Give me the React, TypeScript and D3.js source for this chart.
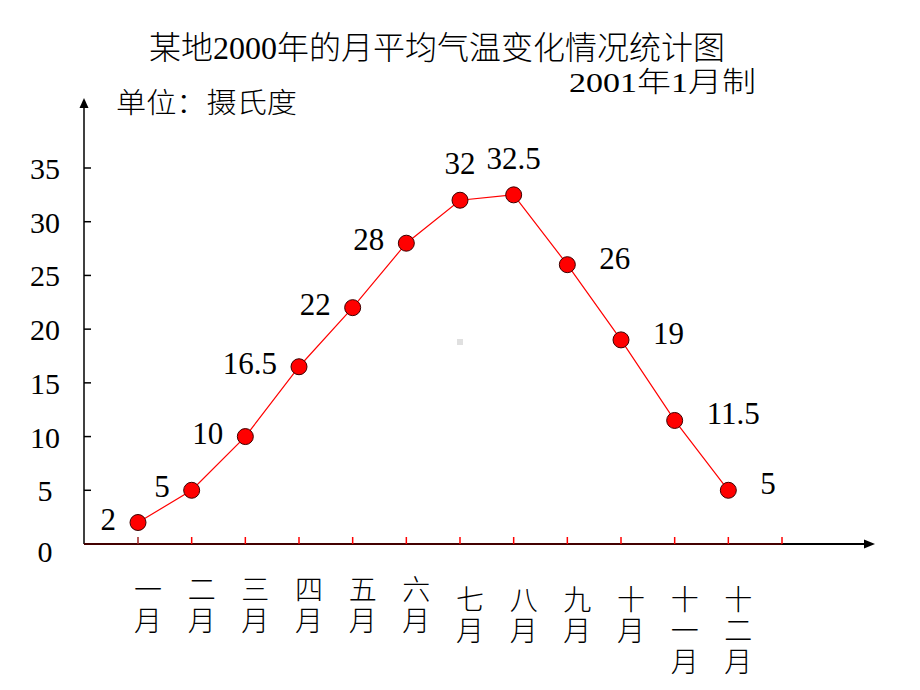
import React from "react";
import * as d3 from "d3";

const months = ["一月", "二月", "三月", "四月", "五月", "六月", "七月", "八月", "九月", "十月", "十一月", "十二月"];
const temps = [2, 5, 10, 16.5, 22, 28, 32, 32.5, 26, 19, 11.5, 5];
const valueLabels = ["2", "5", "10", "16.5", "22", "28", "32", "32.5", "26", "19", "11.5", "5"];
const yTicks = [0, 5, 10, 15, 20, 25, 30, 35];
const title = "某地2000年的月平均气温变化情况统计图";
const subtitle = "2001年1月制";
const unitLabel = "单位：摄氏度";

const W = 920;
const H = 690;
const serif = "'Liberation Serif', 'Times New Roman', 'Noto Sans CJK SC', serif";
const cjk = "'Liberation Serif', 'Noto Sans CJK SC', sans-serif";

export default function App() {
  const axisX = 84;
  const axisY = 544;
  const y = d3.scaleLinear().domain([0, 35]).range([axisY, 168]);
  const x = d3.scaleLinear().domain([0, 12]).range([138, 782]);

  const line = d3
    .line<number>()
    .x((_, i) => x(i))
    .y((d) => y(d));

  const labelFor = (i: number, v: number) => {
    const px = x(i);
    const py = y(v);
    if (i < 6) return { x: px - 22, y: py + 7, anchor: "end" };
    if (i < 8) return { x: px, y: py - 26, anchor: "middle" };
    return { x: px + 32, y: py + 4, anchor: "start" };
  };

  return (
    <svg
      width={W}
      height={H}
      viewBox={`0 0 ${W} ${H}`}
      style={{ position: "absolute", left: 0, top: 0, background: "#fff" }}
    >
      <rect x={0} y={0} width={W} height={H} fill="#fff" />
      {/* titles */}
      <text
        x={437}
        y={59}
        textAnchor="middle"
        fontFamily={cjk}
        fontSize={32}
        fontWeight={300}
        textLength={576}
        lengthAdjust="spacingAndGlyphs"
        fill="#000"
      >
        {title}
      </text>
      <text
        x={569}
        y={92}
        fontFamily={cjk}
        fontSize={28}
        fontWeight={300}
        textLength={187}
        lengthAdjust="spacingAndGlyphs"
        fill="#000"
      >
        {subtitle}
      </text>
      <text
        x={116}
        y={113}
        fontFamily={cjk}
        fontSize={28}
        fontWeight={300}
        textLength={181}
        lengthAdjust="spacingAndGlyphs"
        fill="#000"
      >
        {unitLabel}
      </text>

      {/* y axis */}
      <line x1={axisX} y1={axisY} x2={axisX} y2={104} stroke="#000" strokeWidth={1.5} />
      <path d={`M${axisX},98 L${axisX - 4.5},108 L${axisX + 4.5},108 Z`} fill="#000" />
      {yTicks.map((t) => (
        <g key={t}>
          {t > 0 && (
            <line x1={axisX} x2={axisX + 7} y1={y(t)} y2={y(t)} stroke="#000" strokeWidth={1.5} />
          )}
          <text
            x={45}
            y={y(t) + (t === 0 ? 18 : 11)}
            textAnchor="middle"
            fontFamily={serif}
            fontSize={30}
            fill="#000"
          >
            {t}
          </text>
        </g>
      ))}

      {/* x axis */}
      <line x1={axisX} y1={axisY} x2={868} y2={axisY} stroke="#000" strokeWidth={1.8} />
      <line x1={axisX} y1={axisY} x2={x(12)} y2={axisY} stroke="#c00000" strokeWidth={1} opacity={0.7} />
      <path d={`M875,${axisY} L864,${axisY - 4.5} L864,${axisY + 4.5} Z`} fill="#000" />
      {d3.range(13).map((i) => (
        <line
          key={i}
          x1={x(i)}
          x2={x(i)}
          y1={axisY}
          y2={axisY - 7}
          stroke={i === 0 ? "#a02020" : "#ff0000"}
          strokeWidth={1.5}
        />
      ))}

      {/* month labels, vertical */}
      {months.map((m, i) => {
        const chars = Array.from(m);
        const startCenter = i < 6 ? 590 : 600;
        return (
          <g key={m}>
            {chars.map((c, k) => (
              <text
                key={k}
                x={x(i) + 10}
                y={startCenter + k * 31 + 10}
                textAnchor="middle"
                fontFamily={cjk}
                fontSize={28}
                fontWeight={300}
                fill="#000"
              >
                {c}
              </text>
            ))}
          </g>
        );
      })}

      {/* line and points */}
      <path d={line(temps) || ""} fill="none" stroke="#ff0000" strokeWidth={1.2} />
      {temps.map((v, i) => (
        <circle key={i} cx={x(i)} cy={y(v)} r={8} fill="#ff0000" stroke="#3a0000" strokeWidth={1} />
      ))}
      {temps.map((v, i) => {
        const p = labelFor(i, v);
        return (
          <text
            key={i}
            x={p.x}
            y={p.y}
            textAnchor={p.anchor as any}
            fontFamily={serif}
            fontSize={31}
            fill="#000"
          >
            {valueLabels[i]}
          </text>
        );
      })}

      <rect x={457} y={339} width={6} height={6} fill="#e0e0e0" />
    </svg>
  );
}
